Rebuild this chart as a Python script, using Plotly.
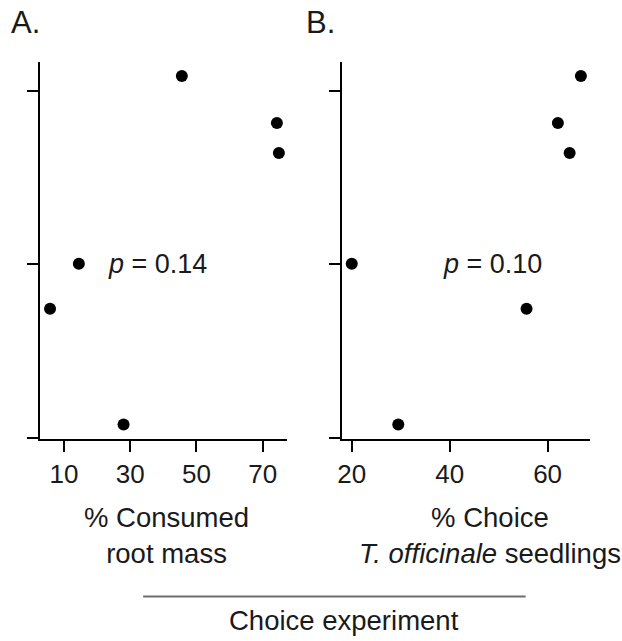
import plotly.graph_objects as go

# Response values (shared by both panels; axis is unlabelled)
response = [2.086, 1.816, 1.643, 1.004, 0.745, 0.077]

# Panel A: % consumed root mass
consumed_root_mass = [45.6, 74.3, 74.9, 14.5, 5.8, 28.0]
# Panel B: % choice of T. officinale seedlings
choice_seedlings = [66.8, 62.1, 64.5, 20.0, 55.7, 29.5]

ticks_a = [10, 30, 50, 70]
ticks_b = [20, 40, 60]
y_ticks = [0, 1, 2]

p_a = "0.14"
p_b = "0.10"

W, H = 622, 641
FONT = "Liberation Sans, Arial, Helvetica, sans-serif"
TXT = "#1a1a1a"


def px_x(x):
    return x / W


def px_y(y):
    return (H - y) / H


fig = go.Figure()

fig.add_trace(go.Scatter(
    x=consumed_root_mass, y=response, mode="markers",
    marker=dict(color="black", size=12),
    xaxis="x", yaxis="y", showlegend=False, hoverinfo="x+y"))
fig.add_trace(go.Scatter(
    x=choice_seedlings, y=response, mode="markers",
    marker=dict(color="black", size=12),
    xaxis="x2", yaxis="y2", showlegend=False, hoverinfo="x+y"))

axis_common = dict(
    showline=True, linecolor="black", linewidth=2,
    ticks="outside", ticklen=11, tickwidth=2, tickcolor="black",
    showgrid=False, zeroline=False, mirror=False,
    tickfont=dict(family=FONT, size=26, color=TXT),
)

y_range = [-0.006, 2.167]
y_dom = [px_y(439), px_y(62)]

fig.update_layout(
    width=W, height=H,
    margin=dict(l=0, r=0, t=0, b=0),
    paper_bgcolor="white", plot_bgcolor="white",
    font=dict(family=FONT, size=27.5, color=TXT),
    xaxis=dict(domain=[px_x(36), px_x(285)], range=[2.7, 77.4],
               tickvals=ticks_a, anchor="y", **axis_common),
    yaxis=dict(domain=y_dom, range=y_range, tickvals=y_ticks,
               showticklabels=False, anchor="x", **axis_common),
    xaxis2=dict(domain=[px_x(340), px_x(590)], range=[17.97, 68.7],
                tickvals=ticks_b, anchor="y2", **axis_common),
    yaxis2=dict(domain=y_dom, range=y_range, tickvals=y_ticks,
                showticklabels=False, anchor="x2", **axis_common),
)

annotations = [
    dict(text="A.", x=px_x(5), y=px_y(22.5), xanchor="left", yanchor="middle",
         font=dict(size=31)),
    dict(text="B.", x=px_x(302), y=px_y(22.5), xanchor="left", yanchor="middle",
         font=dict(size=31)),
    dict(text="% Consumed<br>root mass", x=px_x(164), y=px_y(535),
         xanchor="center", yanchor="middle", align="center"),
    dict(text="% Choice<br><i>T. officinale</i> seedlings", x=px_x(489), y=px_y(535),
         xanchor="center", yanchor="middle", align="center"),
    dict(text="Choice experiment", x=px_x(342), y=px_y(620),
         xanchor="center", yanchor="middle"),
]
for a in annotations:
    a.update(xref="paper", yref="paper", showarrow=False)

annotations += [
    dict(text=f"<i>p</i> = {p_a}", x=38.4, y=1.0, xref="x", yref="y",
         xanchor="center", yanchor="middle", showarrow=False, font=dict(size=27)),
    dict(text=f"<i>p</i> = {p_b}", x=48.7, y=1.0, xref="x2", yref="y2",
         xanchor="center", yanchor="middle", showarrow=False, font=dict(size=27)),
]
fig.update_layout(annotations=annotations)

fig.add_shape(type="line", xref="paper", yref="paper",
              x0=px_x(140), x1=px_x(525), y0=px_y(596.5), y1=px_y(596.5),
              line=dict(color="#6e6e6e", width=2))

fig.write_html("out.html")
